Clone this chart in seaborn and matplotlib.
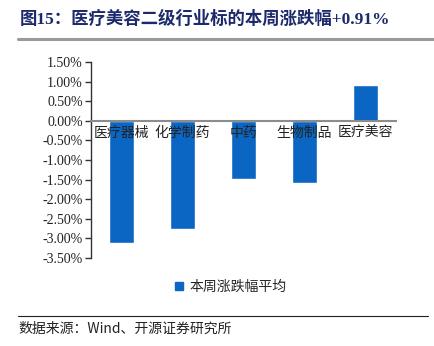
import matplotlib
matplotlib.use("Agg")
import matplotlib.pyplot as plt
import seaborn as sns
import pandas as pd
from matplotlib.lines import Line2D
from matplotlib.ticker import FuncFormatter, FixedLocator

categories = ["医疗器械", "化学制药", "中药", "生物制品", "医疗美容"]
values = [-3.11, -2.76, -1.49, -1.59, 0.91]
series_name = "本周涨跌幅平均"
title_text = "图15：医疗美容二级行业标的本周涨跌幅+0.91%"
source_text = "数据来源：Wind、开源证券研究所"
yticks = [1.5, 1.0, 0.5, 0.0, -0.5, -1.0, -1.5, -2.0, -2.5, -3.0, -3.5]

sns.set_theme(style="white")
plt.rcParams['font.family'] = ['Liberation Serif', 'Noto Sans CJK SC', 'DejaVu Sans']
plt.rcParams['axes.unicode_minus'] = False
plt.rcParams['axes.axisbelow'] = False

df = pd.DataFrame({"cat": categories, "val": values, "series": series_name})

fig = plt.figure(figsize=(4.35, 3.46), dpi=100)
ax = fig.add_axes([91/435, 1-258/346, 305/435, 196/346])
ax.set_axisbelow(False)

bar_color = "#0a66c2"
sns.barplot(data=df, x="cat", y="val", hue="series", palette=[bar_color],
            width=0.4, ax=ax, legend=False, saturation=1, zorder=1)

ax.set_ylim(-3.5, 1.5)
ax.set_xlim(-0.5, 4.5)
ax.yaxis.set_major_locator(FixedLocator(yticks))
ax.yaxis.set_major_formatter(FuncFormatter(lambda v, p: f"{v:.2f}%"))
ax.set_xlabel("")
ax.set_ylabel("")

for s in ["top", "right"]:
    ax.spines[s].set_visible(False)
ax.spines["left"].set_color("#333333")
ax.spines["left"].set_linewidth(1.0)
ax.spines["bottom"].set_position(("data", 0))
ax.spines["bottom"].set_color("#8c8c8c")
ax.spines["bottom"].set_linewidth(1.5)
ax.spines["bottom"].set_zorder(5)

ax.tick_params(axis="y", direction="out", length=4, width=1, color="#333333",
               labelsize=10, pad=2, left=True)
ax.tick_params(axis="x", length=0, labelsize=10, pad=4, bottom=True)
ax.set_xticks(range(len(categories)))
ax.set_xticklabels(categories, family=['Noto Sans CJK SC'])
for lab in ax.get_yticklabels():
    lab.set_color("#222222")
for lab in ax.get_xticklabels():
    lab.set_color("#222222")
ax.xaxis.set_zorder(6)

# legend
handle = Line2D([0], [0], marker="s", linestyle="none", markersize=6,
                markerfacecolor=bar_color, markeredgecolor=bar_color)
fig.legend([handle], [series_name], loc="center left",
           bbox_to_anchor=(160/435, 1-287/346), frameon=False,
           prop={"family": "Noto Sans CJK SC", "size": 10},
           handletextpad=0.2, handlelength=1.0)

# title
fig.text(20/435, 1-19/346, title_text, fontsize=12.5, fontweight="bold",
         color="#1c2a6b", va="center", ha="left",
         family=['Liberation Serif', 'Noto Sans CJK SC'])
fig.add_artist(Line2D([18/435, 1.0], [1-39/346, 1-39/346], color="#9a9a9a",
                      linewidth=2.2, transform=fig.transFigure))
fig.add_artist(Line2D([18/435, 428/435], [1-316/346, 1-316/346], color="#222222",
                      linewidth=0.8, transform=fig.transFigure))
fig.text(18/435, 1-329/346, source_text, fontsize=10, color="#222222",
         va="center", ha="left", family=['Noto Sans CJK SC', 'Liberation Serif'])

fig.savefig("out.png", dpi=100)
